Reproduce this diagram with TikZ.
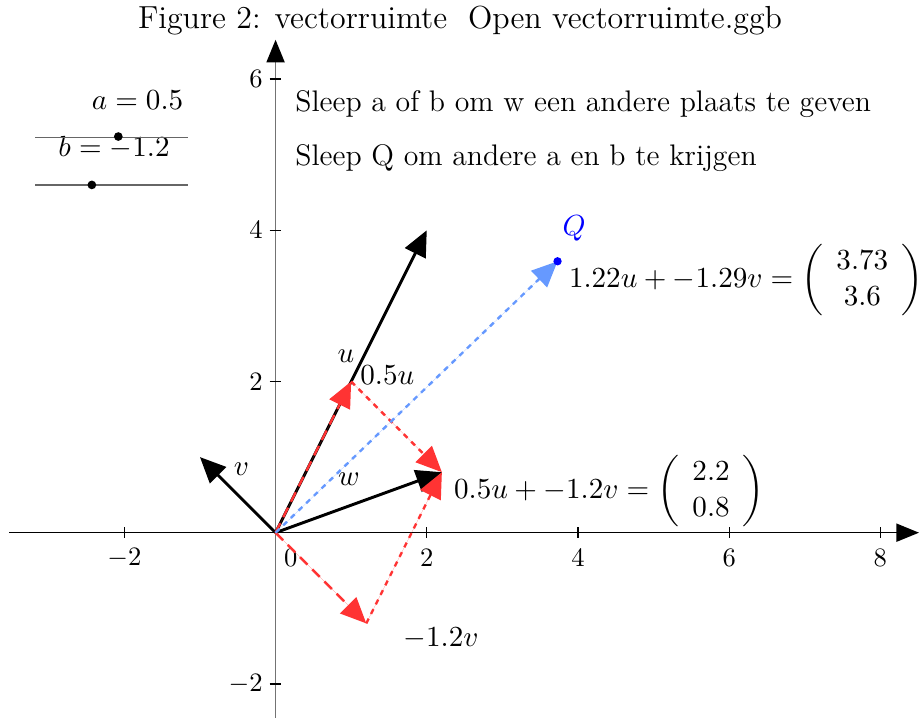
\documentclass[tikz,border=0pt]{standalone}
\usepackage{amsmath,amssymb}
\usepackage{xcolor}
\definecolor{clVecRed}{HTML}{FF3333}
\definecolor{clVecBlue}{HTML}{6699FF}
\definecolor{clPoint}{HTML}{0000FF}
\usepackage{tikz}
\usetikzlibrary{arrows.meta,calc}
\tikzset{
  axis/.style={-{Triangle[length=3mm, width=2.4mm, color=black]}, line width=0.6pt},
  tick/.style={line width=0.5pt},
  ticklabel/.style={font=\normalsize, inner sep=1pt},
  vec/.style={-{Triangle[length=3.4mm, width=3mm]}, line width=1.1pt},
  redvec/.style={vec, draw=clVecRed, fill=clVecRed, line width=0.9pt, dash pattern=on 4pt off 2.5pt},
  reddot/.style={vec, draw=clVecRed, fill=clVecRed, line width=0.9pt, dash pattern=on 2pt off 2pt},
  bluevec/.style={vec, draw=clVecBlue, fill=clVecBlue, line width=0.9pt, dash pattern=on 2pt off 2pt},
  veclabel/.style={font=\fontsize{11.2}{13.5}\selectfont, inner sep=1pt},
  slider/.style={line width=0.5pt, draw=black!60},
  knob/.style={circle, fill=black, inner sep=0pt, minimum size=1.15mm},
}

\begin{document}
\begin{tikzpicture}[x=1cm, y=1cm]
  \useasboundingbox (-3.645,-2.45) rectangle (8.511,7.046);
  % axes
  \coordinate (O) at (0,0);
  \coordinate (xl) at (-3.52,0); \coordinate (xr) at (8.511,0);
  \coordinate (yb) at (0,-2.45); \coordinate (yt) at (0,6.52);
  \draw[axis] (xl) -- (xr);
  \draw[axis, draw=black!55] (yb) -- (yt);
  \foreach \x in {-2,2,4,6,8} {
    \draw[tick] (\x,-0.07) -- (\x,0.07);
    \node[ticklabel] at (\x,-0.34) {$\x$};
  }
  \node[ticklabel] at (0.2,-0.34) {$0$};
  \foreach \y in {-2,2,4,6} {
    \draw[tick] (-0.08,\y) -- (0.07,\y);
    \node[ticklabel, anchor=east] at (-0.13,\y) {$\y$};
  }
  % vectors
  \coordinate (u) at (2,4);
  \coordinate (v) at (-1,1);
  \coordinate (hu) at (1,2);
  \coordinate (mv) at (1.2,-1.2);
  \coordinate (w) at (2.2,0.8);
  \coordinate (Q) at (3.73,3.59);
  \draw[vec] (O) -- (u);
  \draw[vec] (O) -- (v);
  \draw[vec] (O) -- (w);
  \draw[redvec] (O) -- (hu);
  \draw[reddot] (hu) -- (w);
  \draw[redvec] (O) -- (mv);
  \draw[reddot] (mv) -- (w);
  \draw[bluevec] (O) -- (Q);
  \fill[clPoint] (Q) circle (0.055);
  % labels
  \node[veclabel] (lu) at (0.93,2.33) {$u$};
  \node[veclabel, anchor=west] (lhu) at (1.08,2.08) {$0.5u$};
  \node[veclabel] (lv) at (-0.45,0.84) {$v$};
  \node[veclabel] (lw) at (0.97,0.71) {$w$};
  \node[veclabel, anchor=west] (lmv) at (1.65,-1.40) {$-1.2v$};
  \node[veclabel, text=clPoint] (lQ) at (3.95,4.02) {$Q$};
  \node[veclabel, anchor=west] (eqQ) at (3.84,3.34)
    {$1.22u+-1.29v=\left(\begin{array}{c}3.73\\3.6\end{array}\right)$};
  \node[veclabel, anchor=west] (eqw) at (2.32,0.55)
    {$0.5u+-1.2v=\left(\begin{array}{c}2.2\\0.8\end{array}\right)$};
  % sliders
  \node[veclabel, anchor=east] (la) at (-1.18,5.72) {$a=0.5$};
  \node[veclabel, anchor=east] (lb) at (-1.36,5.10) {$b=-1.2$};
  \draw[slider] (-3.18,5.23) -- (-1.16,5.23);
  \draw[slider] (-3.18,4.60) -- (-1.16,4.60);
  \node[knob] (ka) at (-2.08,5.24) {};
  \node[knob] (kb) at (-2.43,4.60) {};
  % texts
  \node[veclabel, anchor=west] (t1) at (0.22,5.67) {Sleep a of b om w een andere plaats te geven};
  \node[veclabel, anchor=west] (t2) at (0.22,4.95) {Sleep Q om andere a en b te krijgen};
  \node[font=\large, inner sep=1pt] (title) at (2.44,6.78) {Figure 2: vectorruimte\ \ Open vectorruimte.ggb};
\end{tikzpicture}
\end{document}
